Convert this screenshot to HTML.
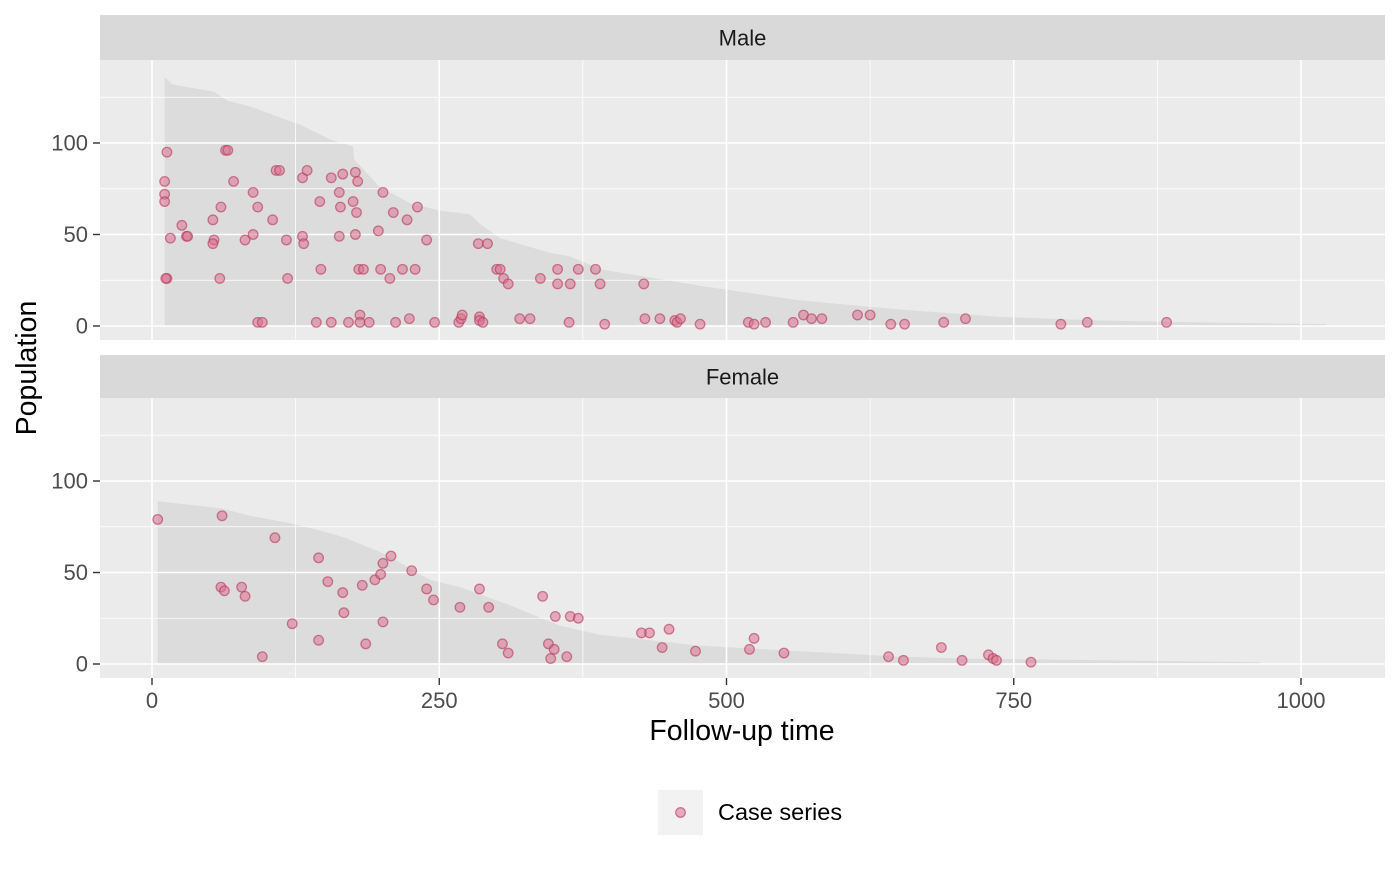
<!DOCTYPE html>
<html><head><meta charset="utf-8"><style>
body{margin:0;background:#fff;}
svg{font-family:"Liberation Sans",sans-serif;}
</style></head><body>
<svg id="chart" width="1400" height="865"></svg>
<script>
const maleT=[13,11,11,11,16,13,12,26,30,31,53,54,53,60,59,64,66,71,81,88,92,88,92,96,105,108,111,118,117,131,135,131,132,143,146,147,156,156,163,164,163,166,171,175,177,177,178,179,180,184,181,181,189,197,199,201,207,210,212,218,222,224,229,231,239,246,267,269,270,284,285,285,288,292,300,303,306,310,320,329,338,353,353,363,364,371,386,390,394,428,429,442,455,457,460,477,519,524,534,558,567,574,583,614,625,643,655,689,708,791,814,883];
const maleP=[95,79,72,68,48,26,26,55,49,49,58,47,45,65,26,96,96,79,47,73,65,50,2,2,58,85,85,26,47,81,85,49,45,2,68,31,2,81,73,65,49,83,2,68,84,50,62,79,31,31,6,2,2,52,31,73,26,62,2,31,58,4,31,65,47,2,2,4,6,45,5,3,2,45,31,31,26,23,4,4,26,31,23,2,23,31,31,23,1,23,4,4,3,2,4,1,2,1,2,2,6,4,4,6,6,1,1,2,4,1,2,2];
const femaleT=[5,61,60,63,78,81,96,107,122,145,145,153,166,167,183,186,194,199,201,201,208,226,239,245,268,285,293,305,310,340,345,347,351,350,361,364,371,426,433,444,450,473,520,524,550,641,654,687,705,728,732,735,765];
const femaleP=[79,81,42,40,42,37,4,69,22,58,13,45,39,28,43,11,46,49,23,55,59,51,41,35,31,41,31,11,6,37,11,3,26,8,4,26,25,17,17,9,19,7,8,14,6,4,2,9,2,5,3,2,1];
const maleRiskT=[11,18,54,66,85,129,155,175,176,198,225,251,277,285,303,346,364,390,477,564,651,738,825,912,1022];
const maleRiskP=[136,132,128,123,120,110,102,98,91,76,67,63,61,56,48,40,38,31,22,14,9,5,3,2,1];
const femRiskT=[5,61,85,120,146,168,203,242,268,312,355,390,477,564,651,703,964];
const femRiskP=[89,85,81,77,73,69,60,46,42,32,21,16,10,7,4,3,1];
const xTicks=[0,250,500,750,1000];
const yTicks=[0,50,100];

const svg=document.getElementById('chart');
const NS='http://www.w3.org/2000/svg';
function mk(tag,attrs,parent,txt){const e=document.createElementNS(NS,tag);for(const k in attrs)e.setAttribute(k,attrs[k]);if(txt!==undefined)e.textContent=txt;(parent||svg).appendChild(e);return e;}
const X0=100,X1=1385;
const sx=t=>152+t*1.149;
function panel(name,top,stripTop,label,T,P,RT,RP){
  const g=mk('g',{});
  
  
  const strip=mk('rect',{x:X0,y:stripTop,width:X1-X0,height:top-stripTop,fill:'#d9d9d9'},g);
  
  
  const st=mk('text',{x:(X0+X1)/2,y:stripTop+(top-stripTop)/2+8,'text-anchor':'middle','font-size':22,fill:'#1a1a1a'},g,label);
  
  
  const bottom=top+280;
  const y0=top+266;
  const sy=p=>y0-p*1.83;
  mk('rect',{x:X0,y:top,width:X1-X0,height:280,fill:'#ebebeb'},g);
  let d='M'+sx(RT[0])+','+sy(0);
  for(let i=0;i<RT.length;i++){d+=' L'+sx(RT[i])+','+sy(RP[i]);}
  d+=' L'+sx(RT[RT.length-1])+','+sy(0)+'Z';
  const area=mk('path',{d:d,fill:'#dcdcdc'},g);
  
  
  [25,75,125].forEach(v=>mk('line',{x1:X0,x2:X1,y1:sy(v),y2:sy(v),stroke:'#fff','stroke-width':0.8},g));
  [125,375,625,875].forEach(v=>mk('line',{x1:sx(v),x2:sx(v),y1:top,y2:bottom,stroke:'#fff','stroke-width':0.8},g));
  yTicks.forEach(v=>mk('line',{x1:X0,x2:X1,y1:sy(v),y2:sy(v),stroke:'#fff','stroke-width':1.6},g));
  xTicks.forEach(v=>mk('line',{x1:sx(v),x2:sx(v),y1:top,y2:bottom,stroke:'#fff','stroke-width':1.6},g));
  yTicks.forEach(v=>{
    mk('line',{x1:93,x2:100,y1:sy(v),y2:sy(v),stroke:'#333','stroke-width':1.4},g);
    const t=mk('text',{x:88,y:sy(v)+7.5,'text-anchor':'end','font-size':22,fill:'#4d4d4d'},g,v);
    
    
  });
  for(let i=0;i<T.length;i++){
    const c=mk('circle',{cx:sx(T[i]),cy:sy(P[i]),r:4.8,fill:'#d9738f','fill-opacity':0.55,stroke:'#b8365a','stroke-opacity':0.6,'stroke-width':1.3},g);
    
    
  }
  return bottom;
}
panel('male',60,15,'Male',maleT,maleP,maleRiskT,maleRiskP);
const fb=panel('female',398,355,'Female',femaleT,femaleP,femRiskT,femRiskP);
xTicks.forEach(v=>{
  mk('line',{x1:sx(v),x2:sx(v),y1:fb,y2:fb+7,stroke:'#333','stroke-width':1.4});
  const t=mk('text',{x:sx(v),y:fb+30,'text-anchor':'middle','font-size':22,fill:'#4d4d4d'},svg,v);
  
  
});
const xt=mk('text',{x:742,y:740,'text-anchor':'middle','font-size':28.5,fill:'#000'},svg,'Follow-up time');


const yt=mk('text',{x:0,y:0,'text-anchor':'middle','font-size':28.5,fill:'#000',transform:'translate(36,368) rotate(-90)'},svg,'Population');


const lg=mk('g',{});


mk('rect',{x:658,y:790,width:45,height:45,fill:'#f2f2f2'},lg);
const lk=mk('circle',{cx:680.5,cy:812.5,r:4.8,fill:'#d9738f','fill-opacity':0.55,stroke:'#b8365a','stroke-opacity':0.6,'stroke-width':1.3},lg);


const lt=mk('text',{x:718,y:820,'font-size':23.5,fill:'#000'},lg,'Case series');


</script>
</body></html>
